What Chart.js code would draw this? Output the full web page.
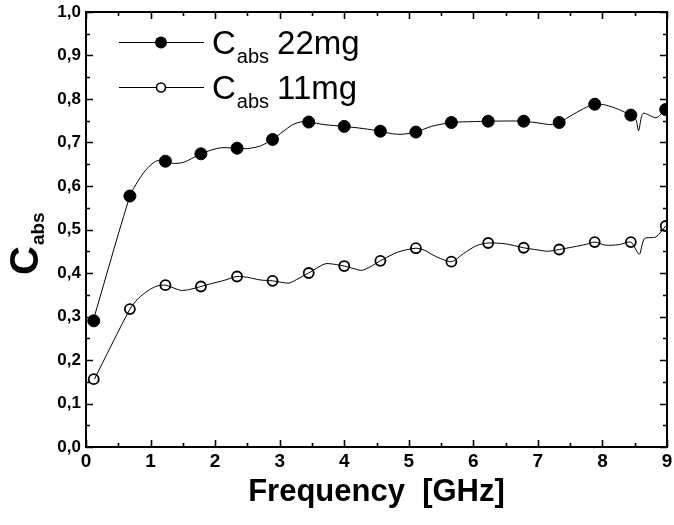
<!DOCTYPE html>
<html>
<head>
<meta charset="utf-8">
<script src="https://cdn.jsdelivr.net/npm/chart.js@4.4.1/dist/chart.umd.min.js"></script>
<style>
  html, body { margin: 0; padding: 0; background: #fff; }
  #wrap { width: 674px; height: 525px; }
</style>
</head>
<body>
<div id="wrap"><canvas id="absChart" width="674" height="525"></canvas></div>
<script>
// curve (GHz, C_abs)
const freq22 = [0.11, 0.68, 0.80, 0.90, 1.00, 1.10, 1.23, 1.35, 1.50, 1.65, 1.78, 1.95, 2.10, 2.34, 2.50, 2.70, 2.89, 3.05, 3.20, 3.35, 3.45, 3.70, 4.00, 4.30, 4.56, 4.75, 4.90, 5.11, 5.35, 5.66, 6.00, 6.23, 6.77, 7.05, 7.20, 7.33, 7.55, 7.75, 7.88, 8.05, 8.25, 8.43, 8.52, 8.56, 8.63, 8.83, 8.98];
const cabs22 = [0.290, 0.577, 0.610, 0.632, 0.648, 0.658, 0.657, 0.652, 0.654, 0.664, 0.674, 0.683, 0.688, 0.687, 0.686, 0.692, 0.707, 0.725, 0.741, 0.748, 0.747, 0.741, 0.737, 0.732, 0.726, 0.720, 0.719, 0.724, 0.737, 0.746, 0.748, 0.749, 0.749, 0.744, 0.741, 0.746, 0.765, 0.781, 0.788, 0.786, 0.776, 0.763, 0.752, 0.727, 0.767, 0.757, 0.776];

const freq11 = [0.13, 0.68, 0.80, 0.90, 1.00, 1.10, 1.23, 1.47, 1.60, 1.78, 1.95, 2.14, 2.34, 2.50, 2.70, 2.89, 3.05, 3.15, 3.30, 3.45, 3.70, 3.85, 4.00, 4.15, 4.27, 4.40, 4.56, 4.83, 5.11, 5.25, 5.39, 5.66, 5.85, 6.05, 6.23, 6.50, 6.78, 7.00, 7.15, 7.33, 7.55, 7.75, 7.88, 8.05, 8.25, 8.44, 8.57, 8.65, 8.83, 8.98];
const cabs11 = [0.156, 0.317, 0.340, 0.353, 0.363, 0.370, 0.372, 0.360, 0.362, 0.369, 0.376, 0.383, 0.392, 0.390, 0.384, 0.382, 0.378, 0.377, 0.388, 0.400, 0.421, 0.420, 0.416, 0.410, 0.406, 0.414, 0.428, 0.448, 0.457, 0.452, 0.440, 0.426, 0.445, 0.463, 0.469, 0.467, 0.458, 0.453, 0.450, 0.454, 0.460, 0.466, 0.471, 0.464, 0.465, 0.471, 0.443, 0.479, 0.483, 0.508];

// symbols
const markFreq = [0.12, 0.68, 1.23, 1.78, 2.34, 2.89, 3.45, 4.00, 4.56, 5.11, 5.66, 6.23, 6.78, 7.33, 7.88, 8.44, 8.98];
const mark22 = [0.290, 0.577, 0.657, 0.674, 0.687, 0.707, 0.747, 0.737, 0.726, 0.724, 0.746, 0.749, 0.749, 0.746, 0.788, 0.763, 0.776];
const mark11 = [0.156, 0.317, 0.372, 0.369, 0.392, 0.382, 0.400, 0.416, 0.428, 0.457, 0.426, 0.469, 0.458, 0.454, 0.471, 0.471, 0.508];

const xTicks = [0, 1, 2, 3, 4, 5, 6, 7, 8, 9];
const yTicks = [0, 0.1, 0.2, 0.3, 0.4, 0.5, 0.6, 0.7, 0.8, 0.9, 1.0];
const legendNames = ['22mg', '11mg'];

const FONT = '"Liberation Sans", Arial, sans-serif';

function pts(xs, ys) {
  return xs.map((x, i) => ({ x: x, y: ys[i] }));
}

// inward ticks on all four sides + frame
const frameTicks = {
  id: 'frameTicks',
  afterDatasetsDraw(chart) {
    const { ctx, chartArea: a, scales: { x, y } } = chart;
    ctx.save();
    ctx.strokeStyle = '#000';
    ctx.lineWidth = 2;
    ctx.strokeRect(a.left, a.top, a.right - a.left, a.bottom - a.top);
    ctx.lineWidth = 1.6;
    ctx.beginPath();
    for (let v = 0; v <= 9.001; v += 0.5) {
      const px = Math.round(x.getPixelForValue(v)) + 0.5;
      const len = Math.abs(v - Math.round(v)) < 0.01 ? 7 : 4;
      ctx.moveTo(px, a.bottom); ctx.lineTo(px, a.bottom - len);
      ctx.moveTo(px, a.top); ctx.lineTo(px, a.top + len);
    }
    for (let i = 0; i <= 20; i++) {
      const v = i * 0.05;
      const py = Math.round(y.getPixelForValue(v)) + 0.5;
      const len = i % 2 === 0 ? 7 : 4;
      ctx.moveTo(a.left, py); ctx.lineTo(a.left + len, py);
      ctx.moveTo(a.right, py); ctx.lineTo(a.right - len, py);
    }
    ctx.stroke();
    ctx.restore();
  }
};

// legend and y title with subscript
const labels = {
  id: 'labels',
  afterDraw(chart) {
    const ctx = chart.ctx;
    ctx.save();
    ctx.fillStyle = '#000';
    ctx.strokeStyle = '#000';

    // legend
    const rows = [42, 87];
    rows.forEach((ly, i) => {
      ctx.lineWidth = 1;
      ctx.beginPath();
      ctx.moveTo(119, ly + 0.5); ctx.lineTo(204, ly + 0.5);
      ctx.stroke();
      ctx.beginPath();
      ctx.arc(161, ly + 0.5, i === 0 ? 6 : 4.5, 0, Math.PI * 2);
      if (i === 0) { ctx.fill(); }
      else { ctx.fillStyle = '#fff'; ctx.fill(); ctx.fillStyle = '#000'; ctx.lineWidth = 1.6; ctx.stroke(); }
      ctx.textBaseline = 'alphabetic';
      ctx.textAlign = 'left';
      ctx.font = '33px ' + FONT;
      ctx.fillText('C', 212, ly + 12);
      const cw = ctx.measureText('C').width;
      ctx.font = '20px ' + FONT;
      ctx.fillText('abs', 212 + cw + 1, ly + 21);
      const sw = ctx.measureText('abs').width;
      ctx.font = '33px ' + FONT;
      ctx.fillText(legendNames[i], 212 + cw + 1 + sw + 8, ly + 12);
    });

    // y axis title
    ctx.translate(38, 275);
    ctx.rotate(-Math.PI / 2);
    ctx.textAlign = 'left';
    ctx.textBaseline = 'alphabetic';
    ctx.font = 'bold 40px ' + FONT;
    ctx.fillText('C', 0, 0);
    const w = ctx.measureText('C').width;
    ctx.font = 'bold 19px ' + FONT;
    ctx.fillText('abs', w + 1, 6);
    ctx.restore();
  }
};

const ctx = document.getElementById('absChart').getContext('2d');
const absChart = new Chart(ctx, {
  type: 'scatter',
  data: {
    datasets: [
      {
        label: 'Cabs 22mg curve',
        data: pts(freq22, cabs22),
        showLine: true,
        borderColor: '#000',
        borderWidth: 1,
        pointRadius: 0,
        tension: 0.25,
      },
      {
        label: 'Cabs 11mg curve',
        data: pts(freq11, cabs11),
        showLine: true,
        borderColor: '#000',
        borderWidth: 1,
        pointRadius: 0,
        tension: 0.25,
      },
      {
        label: 'Cabs 22mg',
        data: pts(markFreq, mark22),
        showLine: false,
        pointRadius: 6,
        pointBackgroundColor: '#000',
        pointBorderColor: '#000',
        pointBorderWidth: 1,
      },
      {
        label: 'Cabs 11mg',
        data: pts(markFreq, mark11),
        showLine: false,
        pointRadius: 5,
        pointBackgroundColor: '#fff',
        pointBorderColor: '#000',
        pointBorderWidth: 1.8,
      },
    ]
  },
  options: {
    responsive: false,
    animation: false,
    events: [],
    layout: { padding: { top: 12, right: 3, left: 0, bottom: 0 } },
    plugins: {
      legend: { display: false },
      tooltip: { enabled: false },
    },
    scales: {
      x: {
        type: 'linear',
        min: 0,
        max: 9,
        afterBuildTicks: (s) => { s.ticks = xTicks.map(v => ({ value: v })); },
        afterFit: (s) => { s.height = 78; s.paddingLeft = 0; s.paddingRight = 0; },
        grid: { display: false, drawTicks: false },
        border: { display: false },
        ticks: {
          color: '#000',
          padding: 3,
          maxRotation: 0,
          font: { family: FONT, size: 19, weight: 'bold' },
        },
        title: {
          display: true,
          text: 'Frequency  [GHz]',
          color: '#000',
          padding: { top: 0, bottom: 14 },
          font: { family: FONT, size: 31, weight: 'bold' },
        },
      },
      y: {
        type: 'linear',
        min: 0,
        max: 1,
        afterBuildTicks: (s) => { s.ticks = yTicks.map(v => ({ value: v })); },
        afterFit: (s) => { s.width = 86; s.paddingTop = 0; s.paddingBottom = 0; },
        grid: { display: false, drawTicks: false },
        border: { display: false },
        ticks: {
          color: '#000',
          padding: 5,
          font: { family: FONT, size: 17, weight: 'bold' },
          callback: (v) => v.toFixed(1).replace('.', ','),
        },
      },
    },
  },
  plugins: [frameTicks, labels],
});
</script>
</body>
</html>
